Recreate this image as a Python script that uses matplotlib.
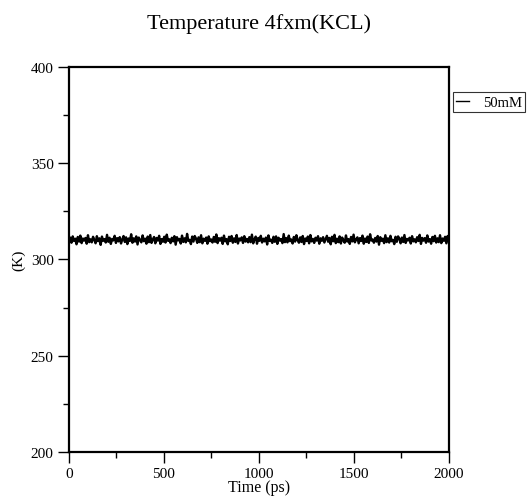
import numpy as np
import matplotlib
matplotlib.use('Agg')
from matplotlib import pyplot as plt

temp = [
    309.1, 311.4, 308.7, 312.0, 309.6, 310.8, 307.9, 311.7, 309.3, 312.4, 308.5, 310.9, 309.8, 311.2, 308.2, 312.6, 309.0, 310.5, 308.9, 311.8,
    310.2, 308.4, 312.1, 309.5, 311.0, 307.6, 311.9, 309.7, 310.6, 308.8, 312.8, 309.2, 311.3, 308.1, 310.7, 309.9, 312.3, 308.6, 311.1, 309.4,
    311.6, 308.3, 310.4, 312.2, 309.1, 311.5, 308.0, 310.9, 309.6, 313.1, 308.7, 311.0, 309.3, 312.0, 307.8, 311.4, 310.1, 308.9, 312.5, 309.5,
    310.8, 308.2, 311.9, 309.0, 312.7, 308.6, 310.3, 311.7, 308.4, 311.2, 309.8, 312.3, 308.1, 310.6, 309.2, 311.8, 308.8, 312.9, 309.7, 310.5,
    308.5, 311.3, 309.4, 312.1, 307.7, 311.6, 309.9, 310.7, 308.3, 312.4, 309.1, 311.0, 308.9, 313.3, 309.6, 310.2, 308.0, 311.9, 309.3, 312.2,
    310.9, 308.6, 311.5, 309.0, 312.6, 308.4, 310.8, 309.7, 311.4, 308.2, 312.0, 309.5, 310.4, 308.8, 311.7, 309.2, 313.0, 308.5, 311.1, 309.8,
    311.3, 308.1, 312.4, 309.4, 310.6, 307.9, 311.8, 309.6, 312.2, 308.7, 311.0, 309.1, 312.7, 308.3, 310.9, 309.9, 311.5, 308.6, 312.1, 309.3,
    310.7, 308.9, 311.6, 309.0, 312.9, 308.4, 310.5, 311.9, 308.2, 311.2, 309.7, 312.3, 308.8, 310.8, 309.4, 311.4, 307.8, 312.5, 309.6, 310.3,
    308.6, 311.8, 309.2, 312.0, 308.1, 311.3, 309.8, 310.6, 308.5, 313.2, 309.0, 311.1, 308.9, 312.4, 309.5, 310.4, 308.3, 311.7, 309.3, 312.6,
    310.1, 308.7, 311.5, 309.1, 312.2, 308.0, 310.9, 309.6, 311.9, 308.4, 312.7, 309.4, 310.7, 308.6, 311.3, 309.8, 312.1, 308.2, 311.0, 309.7,
    311.6, 308.8, 310.5, 312.3, 309.2, 311.2, 307.9, 311.8, 309.5, 312.8, 308.5, 310.8, 309.0, 312.0, 308.3, 311.4, 309.9, 308.7, 312.5, 309.3,
    310.6, 308.1, 311.7, 309.4, 312.9, 308.9, 310.3, 311.5, 308.4, 311.1, 309.6, 312.4, 308.2, 310.9, 309.1, 311.9, 308.6, 313.1, 309.8, 310.4,
    308.7, 311.2, 309.3, 312.2, 307.7, 311.6, 309.7, 310.8, 308.5, 312.6, 309.0, 311.0, 308.8, 312.3, 309.5, 310.2, 308.0, 311.8, 309.2, 312.0,
    310.8, 308.4, 311.4, 309.1, 312.7, 308.6, 310.7, 309.9, 311.3, 308.3, 312.1, 309.4, 310.5, 308.9, 311.6, 309.6, 312.8, 308.1, 311.2, 309.8,
    311.1, 308.7, 312.5, 309.3, 310.6, 308.2, 311.7, 309.5, 312.3, 308.8, 311.0, 309.0, 312.6, 308.5, 310.9, 309.7, 311.8, 308.4, 312.2, 309.2,
]
t_end = 2000.0
series_label = '50mM'

time = np.linspace(0, t_end, len(temp))

plt.rcParams['font.family'] = ['Liberation Serif', 'DejaVu Serif']

fig = plt.figure(figsize=(5.30, 5.02), dpi=100)
ax = fig.add_axes([0.130, 0.0976, 0.717, 0.767])

ax.plot(time, temp, color='black', linewidth=1.7, label=series_label)

ax.set_xlim(0, 2000)
ax.set_ylim(200, 400)
ax.set_xticks([0, 500, 1000, 1500, 2000])
ax.set_xticks([250, 750, 1250, 1750], minor=True)
ax.set_yticks([200, 250, 300, 350, 400])
ax.set_yticks([225, 275, 325, 375], minor=True)

for s in ax.spines.values():
    s.set_linewidth(1.6)
ax.tick_params(which='major', direction='out', length=8, width=1.0, labelsize=11, pad=3)
ax.tick_params(which='minor', direction='out', length=4, width=1.0)

ax.set_xlabel('Time (ps)', fontsize=11.5, labelpad=-1)
ax.set_ylabel('(K)', fontsize=11, labelpad=4)

fig.text(0.488, 0.952, 'Temperature 4fxm(KCL)', ha='center', va='center', fontsize=16)

leg = ax.legend(loc='upper left', bbox_to_anchor=(1.010, 0.935), fontsize=10.5,
                frameon=True, fancybox=False, handlelength=0.9, handletextpad=0.9,
                borderpad=0.25, borderaxespad=0)
leg.get_frame().set_edgecolor('black')
leg.get_frame().set_linewidth(0.8)
leg.get_lines()[0].set_linewidth(1.0)

plt.savefig('out.png', dpi=100)
